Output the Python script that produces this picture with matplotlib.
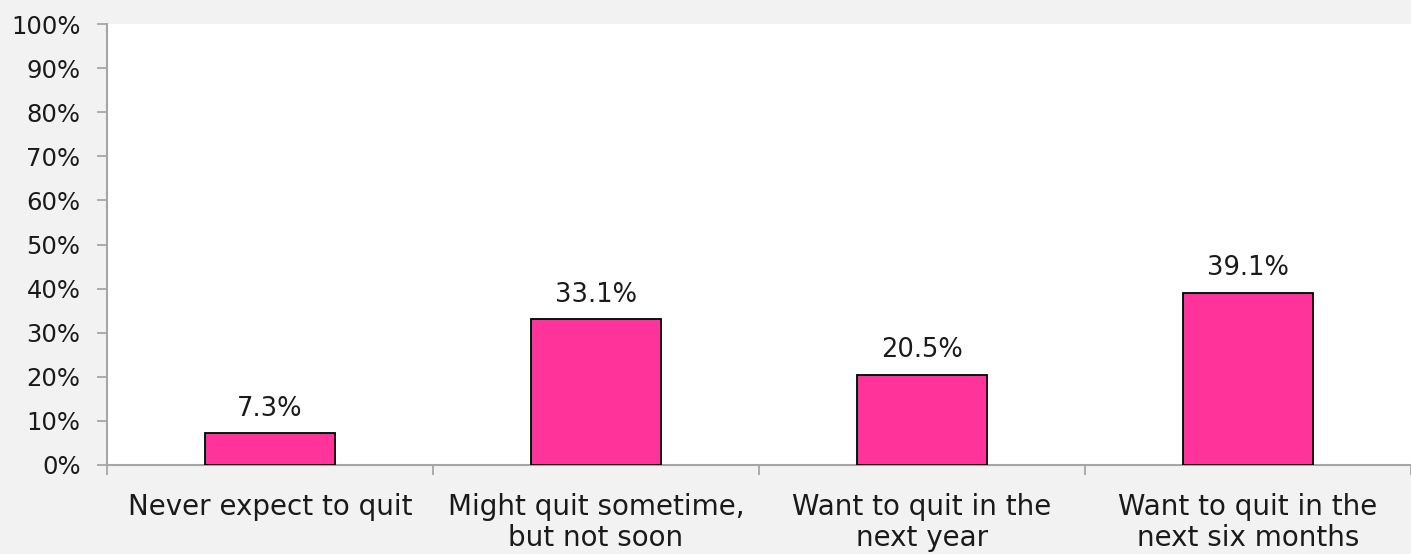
import matplotlib
matplotlib.use("Agg")
import matplotlib.pyplot as plt
import numpy as np

categories = ["Never expect to quit", "Might quit sometime,\nbut not soon",
              "Want to quit in the\nnext year", "Want to quit in the\nnext six months"]
values = [7.3, 33.1, 20.5, 39.1]
value_labels = ["7.3%", "33.1%", "20.5%", "39.1%"]
yticks = [0, 10, 20, 30, 40, 50, 60, 70, 80, 90, 100]
ytick_labels = [f"{t}%" for t in yticks]

plt.rcParams["font.family"] = ["DejaVu Sans"]

W, H = 1411, 554
fig = plt.figure(figsize=(W / 100, H / 100), dpi=100)
fig.patch.set_facecolor("#F2F2F2")

left, right, bottom, top = 107, 1411, 465, 24
ax = fig.add_axes([left / W, (H - bottom) / H, (right - left) / W, (bottom - top) / H])
ax.set_facecolor("white")

x = np.arange(len(categories))
ax.bar(x, values, width=0.40, color="#FF3399", edgecolor="black", linewidth=1.3, zorder=3)

for xi, v, lab in zip(x, values, value_labels):
    ax.annotate(lab, (xi, v), xytext=(0, 8), textcoords="offset points",
                ha="center", va="bottom", fontsize=18.5, color="#1a1a1a")

cat_w = 327
ax.set_xlim(-0.5, -0.5 + (right - left) / cat_w)
ax.set_ylim(0, 100)

ax.set_yticks(yticks)
ax.set_yticklabels(ytick_labels, fontsize=17.5, color="#1a1a1a")
ax.tick_params(axis="y", length=7, width=1.3, color="#A6A6A6", pad=12)

# category separators as major ticks, labels on minor ticks at centres
ax.set_xticks(np.arange(-0.5, len(categories) + 0.5, 1.0))
ax.set_xticklabels([])
ax.tick_params(axis="x", which="major", length=7, width=1.3, color="#A6A6A6")
ax.set_xticks(x, minor=True)
ax.set_xticklabels(categories, minor=True, fontsize=20, color="#1a1a1a", linespacing=1.15)
ax.tick_params(axis="x", which="minor", length=0, pad=20)

for s in ["top", "right"]:
    ax.spines[s].set_visible(False)
for s in ["left", "bottom"]:
    ax.spines[s].set_color("#A6A6A6")
    ax.spines[s].set_linewidth(1.5)

fig.savefig("out.png", dpi=100, facecolor=fig.get_facecolor())
